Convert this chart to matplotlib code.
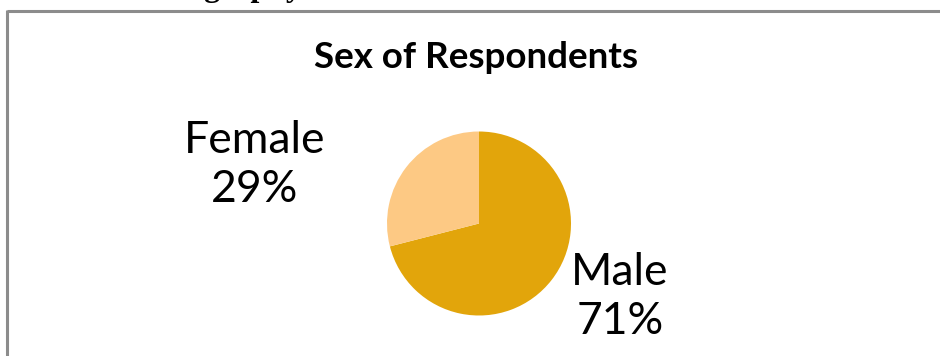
import matplotlib
matplotlib.use("Agg")
import matplotlib.pyplot as plt
from matplotlib.lines import Line2D

# Respondents by sex
categories = ["Male", "Female"]
shares = [71, 29]
colors = ["#E2A50B", "#FDC984"]

W, H = 940, 356
fig = plt.figure(figsize=(W / 100, H / 100), dpi=100)
fig.patch.set_facecolor("white")

def fx(px):
    return px / W

def fy(py):
    return 1 - py / H

# section heading above the chart frame (mostly cut off)
fig.text(fx(302), fy(-4), "Demography", ha="right", va="baseline",
         family="Liberation Serif", weight="bold", fontsize=23, color="black")

# chart frame
frame_kw = dict(color="#8C8C8C", lw=2.2, solid_capstyle="butt")
fig.add_artist(Line2D([fx(7), fx(W + 5)], [fy(10.5), fy(10.5)], transform=fig.transFigure, **frame_kw))
fig.add_artist(Line2D([fx(7.5), fx(7.5)], [fy(9.5), fy(H + 5)], transform=fig.transFigure, **frame_kw))

# title
fig.text(fx(476), fy(58), "Sex of Respondents", ha="center", va="center",
         family="Lato", weight="bold", fontsize=26.5, color="black")

# pie
cx, cy, r = 479, 223.5, 92
ax = fig.add_axes([fx(cx - r), fy(cy + r), (2 * r) / W, (2 * r) / H])
ax.pie(shares, colors=colors, startangle=90, counterclock=False, radius=1,
       wedgeprops=dict(linewidth=0))
ax.set_xlim(-1, 1)
ax.set_ylim(-1, 1)
ax.set_aspect("equal")
ax.axis("off")

# data labels
label_pos = {"Male": (620, 297), "Female": (255, 165)}
for name, val in zip(categories, shares):
    px, py = label_pos[name]
    fig.text(fx(px), fy(py), f"{name}\n{val}%", ha="center", va="center",
             family="Lato", fontsize=32, color="black", linespacing=1.22)

fig.savefig("out.png", dpi=100, facecolor="white")
